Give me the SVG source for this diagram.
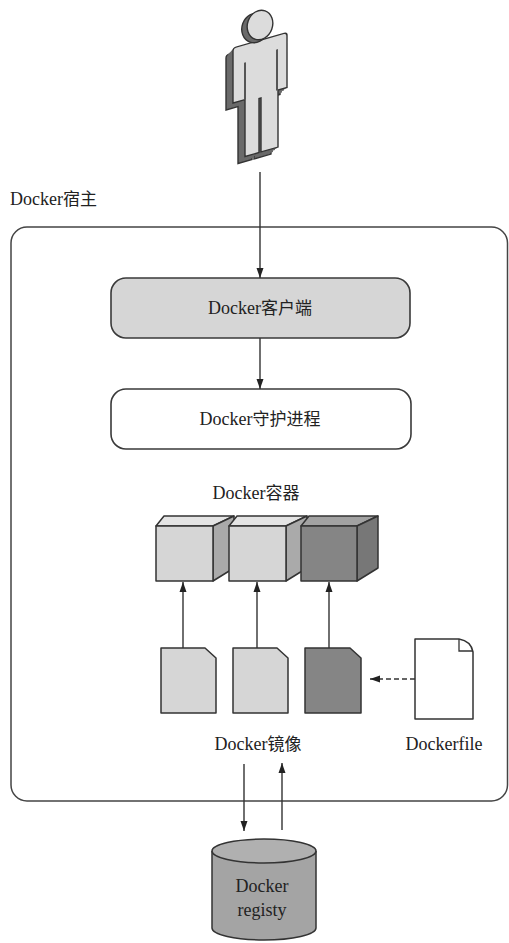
<svg xmlns="http://www.w3.org/2000/svg" width="509" height="943" viewBox="0 0 509 943">
  <style>
    .lbl { font-size: 18px; fill: #222; font-family: "Liberation Serif", "Noto Sans CJK SC", serif; }
    .lat { font-family: "Liberation Serif", "DejaVu Serif", serif; }
    .cjk { font-family: "Noto Sans CJK SC", "Liberation Serif", sans-serif; font-size: 17px; }
    .mid { text-anchor: middle; }
    .edge { stroke: #333; stroke-width: 1.4; fill: none; }
    .box { stroke: #3a3a3a; stroke-width: 1.6; }
    .light { fill: #d6d6d6; }
    .top-l { fill: #e4e4e4; }
    .side-l { fill: #aaaaaa; }
    .dark { fill: #858585; }
    .top-d { fill: #a2a2a2; }
    .side-d { fill: #777777; }
    .out { stroke: #333; stroke-width: 1.5; stroke-linejoin: round; }
  </style>
  <defs>
    <marker id="arrow" viewBox="0 0 10 10" refX="10" refY="5" markerWidth="10" markerHeight="10" markerUnits="userSpaceOnUse" orient="auto">
      <path d="M0,1.5 L10,5 L0,8.5 Z" fill="#222"/>
    </marker>
    <path id="figure" d="M233,51 Q233,48 236,48 L284,48 Q287,48 287,51 L287,103 L278,103 L278,160 L261,160 L261,106 L259,106 L259,160 L245,160 L245,103 L233,103 Z"/>
  </defs>

  <!-- user -->
  <g id="user">
    <g transform="translate(233,0) skewY(-16) translate(-233,0)">
      <use href="#figure" transform="translate(-7,5)" fill="#6a6a6a" stroke="#333" stroke-width="1.4"/>
      <use href="#figure" transform="translate(-5,3.5)" fill="#6a6a6a"/>
      <use href="#figure" transform="translate(-3,2)" fill="#6a6a6a"/>
      <use href="#figure" transform="translate(-1.5,1)" fill="#6a6a6a"/>
      <use href="#figure" fill="#dcdcdc" stroke="#333" stroke-width="1.4"/>
      <path d="M245,66 V103 M277,62 V103" stroke="#555" stroke-width="2" fill="none"/>
    </g>
    <ellipse cx="255" cy="28" rx="13" ry="15" fill="#6a6a6a" stroke="#333" stroke-width="1.4" transform="rotate(20 255 28)"/>
    <ellipse cx="260" cy="25" rx="12.5" ry="15" fill="#dcdcdc" stroke="#333" stroke-width="1.4" transform="rotate(20 260 25)"/>
  </g>

  <!-- host boundary -->
  <g id="host">
    <text class="lbl" x="10" y="205"><tspan class="lat">Docker</tspan><tspan class="cjk">宿主</tspan></text>
    <rect x="11" y="227" width="496.5" height="574" rx="16" fill="none" stroke="#444" stroke-width="1.5"/>
  </g>

  <g id="client">
    <rect class="box light" x="111" y="278" width="299" height="60" rx="15"/>
    <text class="lbl mid" x="260" y="314"><tspan class="lat">Docker</tspan><tspan class="cjk">客户端</tspan></text>
  </g>

  <g id="daemon">
    <rect class="box" x="111" y="389" width="300" height="60" rx="15" fill="#fff"/>
    <text class="lbl mid" x="260" y="425"><tspan class="lat">Docker</tspan><tspan class="cjk">守护进程</tspan></text>
  </g>

  <g id="containers">
    <text class="lbl mid" x="256" y="499"><tspan class="lat">Docker</tspan><tspan class="cjk">容器</tspan></text>
    <g id="container1">
      <polygon class="out top-l" points="156,526 213,526 234,516 164,516"/>
      <polygon class="out side-l" points="213,526 234,516 234,568 213,581"/>
      <rect class="out light" x="156" y="526" width="57" height="55"/>
    </g>
    <g id="container2">
      <polygon class="out top-l" points="229,526 286,526 307,516 237,516"/>
      <polygon class="out side-l" points="286,526 307,516 307,568 286,581"/>
      <rect class="out light" x="229" y="526" width="57" height="55"/>
    </g>
    <g id="container3">
      <polygon class="out top-d" points="301,526 357,526 378,516 309,516"/>
      <polygon class="out side-d" points="357,526 378,516 378,568 357,581"/>
      <rect class="out dark" x="301" y="526" width="56" height="55"/>
    </g>
  </g>

  <g id="images">
    <path id="image1" class="out light" d="M161,648 H205 L216,658 V713 H161 Z"/>
    <path id="image2" class="out light" d="M233,648 H277 L288,658 V713 H233 Z"/>
    <path id="image3" class="out dark" d="M305,648 H350 L361,658 V713 H305 Z"/>
    <text class="lbl mid" x="258" y="750"><tspan class="lat">Docker</tspan><tspan class="cjk">镜像</tspan></text>
  </g>

  <g id="dockerfile">
    <path class="out" fill="#fff" d="M415,639 H459 Q471,641 473,652 V719 H415 Z"/>
    <path d="M459,639 V651 H473" fill="none" stroke="#333" stroke-width="1.3"/>
    <text class="lbl lat mid" x="444" y="750">Dockerfile</text>
  </g>

  <g id="registry">
    <path d="M212,851 V928 A52,12 0 0 0 316,928 V851" fill="#a4a4a4" stroke="#333" stroke-width="1.5"/>
    <ellipse cx="264" cy="851" rx="52" ry="12" fill="#b0b0b0" stroke="#333" stroke-width="1.5"/>
    <text class="lbl lat mid" x="262" y="892">Docker</text>
    <text class="lbl lat mid" x="262" y="916">registy</text>
  </g>

  <!-- connectors -->
  <g id="connectors">
    <line class="edge" x1="260" y1="172" x2="260" y2="278" marker-end="url(#arrow)"/>
    <line class="edge" x1="260" y1="338" x2="260" y2="389" marker-end="url(#arrow)"/>
    <line class="edge" x1="183" y1="648" x2="183" y2="582" marker-end="url(#arrow)"/>
    <line class="edge" x1="257" y1="648" x2="257" y2="582" marker-end="url(#arrow)"/>
    <line class="edge" x1="329" y1="648" x2="329" y2="582" marker-end="url(#arrow)"/>
    <line class="edge" x1="415" y1="679" x2="370" y2="679" stroke-dasharray="5 3" marker-end="url(#arrow)"/>
    <line class="edge" x1="244" y1="764" x2="244" y2="831" marker-end="url(#arrow)"/>
    <line class="edge" x1="282" y1="830" x2="282" y2="763" marker-end="url(#arrow)"/>
  </g>
</svg>
